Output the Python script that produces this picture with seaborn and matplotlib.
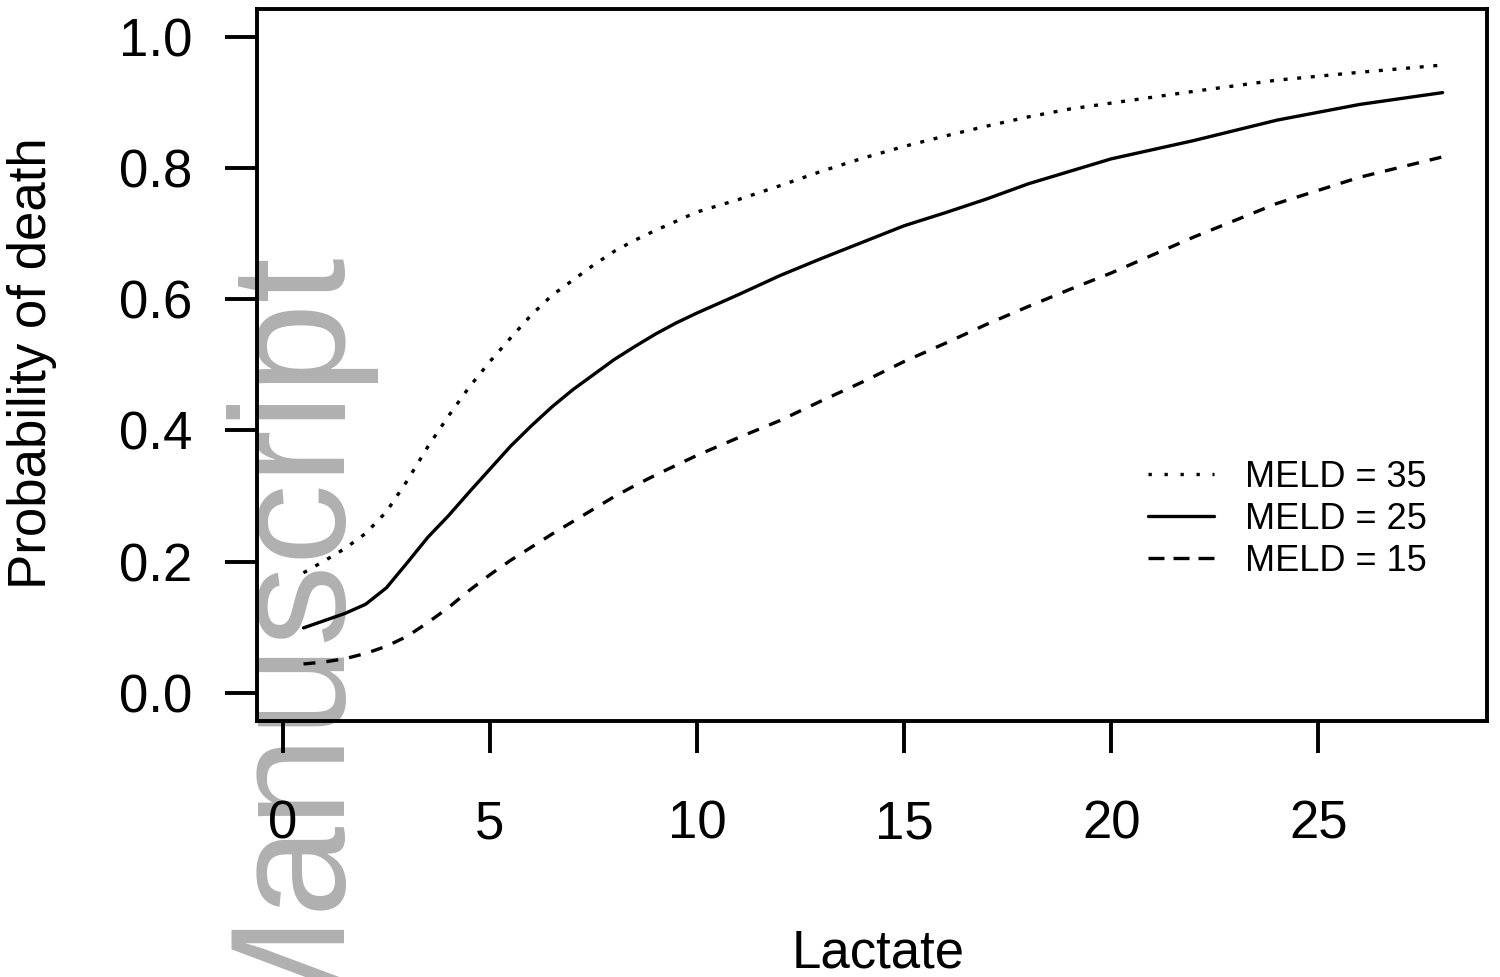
import matplotlib
matplotlib.use('Agg')
import matplotlib.pyplot as plt
import seaborn as sns
import pandas as pd
from matplotlib.lines import Line2D

# ---------------- data ----------------
lactate = [0.5, 1, 1.5, 2, 2.5, 3, 3.5, 4, 4.5, 5, 5.5, 6, 6.5, 7, 7.5, 8, 8.5,
           9, 9.5, 10, 11, 12, 13, 14, 15, 16, 17, 18, 19, 20, 22, 24, 26, 28]
meld35 = [0.183, 0.201, 0.220, 0.243, 0.276, 0.323, 0.375, 0.422, 0.466, 0.505,
          0.541, 0.576, 0.606, 0.629, 0.652, 0.673, 0.690, 0.705, 0.719, 0.733,
          0.752, 0.773, 0.795, 0.815, 0.833, 0.849, 0.864, 0.878, 0.890, 0.899,
          0.917, 0.934, 0.946, 0.957]
meld25 = [0.099, 0.110, 0.121, 0.135, 0.160, 0.198, 0.237, 0.270, 0.306, 0.341,
          0.376, 0.407, 0.436, 0.462, 0.485, 0.508, 0.528, 0.547, 0.564, 0.579,
          0.607, 0.636, 0.662, 0.687, 0.712, 0.732, 0.753, 0.776, 0.795, 0.814,
          0.842, 0.873, 0.897, 0.915]
meld15 = [0.044, 0.047, 0.052, 0.060, 0.071, 0.086, 0.107, 0.130, 0.156, 0.180,
          0.202, 0.222, 0.242, 0.261, 0.280, 0.299, 0.316, 0.332, 0.347, 0.362,
          0.389, 0.415, 0.445, 0.474, 0.505, 0.533, 0.562, 0.589, 0.615, 0.640,
          0.695, 0.746, 0.786, 0.817]
series_labels = ["MELD = 35", "MELD = 25", "MELD = 15"]
x_ticks = [0, 5, 10, 15, 20, 25]
y_ticks = [0.0, 0.2, 0.4, 0.6, 0.8, 1.0]
y_tick_labels = ["0.0", "0.2", "0.4", "0.6", "0.8", "1.0"]
x_label = "Lactate"
y_label = "Probability of death"
watermark = "Manuscript"

df = pd.concat([
    pd.DataFrame({"Lactate": lactate, "Probability": vals, "MELD": lab})
    for vals, lab in zip([meld35, meld25, meld15], series_labels)
], ignore_index=True)

# ---------------- styling ----------------
sns.set_theme(style="white")
plt.rcParams['font.family'] = ['Liberation Sans', 'DejaVu Sans']

W, H = 1500, 977
fig = plt.figure(figsize=(W / 100, H / 100), dpi=100)
fig.patch.set_facecolor("white")
L, R, T, B = 256.7, 1487.3, 9.3, 720.7
ax = fig.add_axes([L / W, 1 - B / H, (R - L) / W, (B - T) / H])

LW = 2.4
dash_map = {"MELD = 35": (1.2, 2.9), "MELD = 25": "", "MELD = 15": (3.6, 3.3)}
sns.lineplot(data=df, x="Lactate", y="Probability", style="MELD",
             style_order=series_labels, dashes=dash_map, color="black",
             linewidth=LW, estimator=None, legend=False, ax=ax,
             dash_capstyle="butt", solid_joinstyle="round", zorder=3)

ax.set_xlim(-0.63, 29.08)
ax.set_ylim(-0.0425, 1.042)
ax.set_xticks(x_ticks)
ax.set_xticklabels([str(v) for v in x_ticks])
ax.set_yticks(y_ticks)
ax.set_yticklabels(y_tick_labels)

for s in ax.spines.values():
    s.set_visible(True)
    s.set_color("black")
    s.set_linewidth(2.8)

ax.tick_params(axis="both", which="major", direction="out", length=22.8,
               width=2.8, color="black", labelcolor="black", labelsize=38,
               bottom=True, left=True)
ax.tick_params(axis="x", pad=34.0)
ax.tick_params(axis="y", pad=23.5)

ax.set_xlabel(x_label, fontsize=38, color="black")
ax.set_ylabel(y_label, fontsize=38, color="black")
ax.xaxis.label.set_va("baseline")
ax.xaxis.set_label_coords((878.5 - L) / (R - L), (B - 968) / (B - T))
ax.yaxis.label.set_va("center")
ax.yaxis.set_label_coords((31.7 - L) / (R - L), (B - 363) / (B - T))

# watermark (grey, behind the curves and axes)
ax.text(331.5 / W, 1 - 243.5 / H, watermark, transform=fig.transFigure,
        rotation=90, rotation_mode="anchor", ha="right", va="baseline",
        fontsize=117, color="#b0b0b0", zorder=0.5, clip_on=False)

# legend
handles = [
    Line2D([], [], color="black", lw=LW, dashes=(1.0, 3.8), dash_capstyle="butt"),
    Line2D([], [], color="black", lw=LW, linestyle="-"),
    Line2D([], [], color="black", lw=LW, dashes=(4.8, 2.7), dash_capstyle="butt"),
]
ax.legend(handles, series_labels, loc="upper left",
          bbox_to_anchor=(1148 / W, 1 - 460 / H), bbox_transform=fig.transFigure,
          frameon=False, fontsize=26, handlelength=1.83, handletextpad=0.86,
          borderpad=0, borderaxespad=0, labelspacing=0.19, labelcolor="black")

fig.savefig("out.png", dpi=100, facecolor="white")
